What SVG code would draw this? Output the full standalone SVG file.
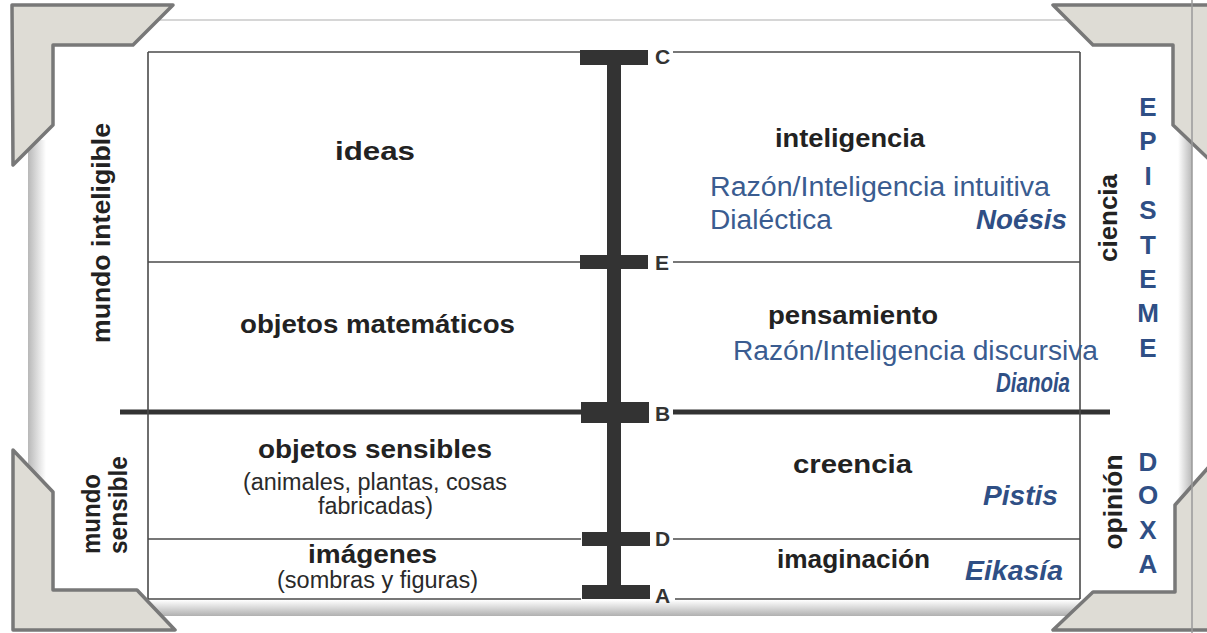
<svg xmlns="http://www.w3.org/2000/svg" width="1207" height="633" viewBox="0 0 1207 633">
<defs>
<linearGradient id="gl" x1="0" y1="0" x2="1" y2="0"><stop offset="0" stop-color="#b8b8b8"/><stop offset="1" stop-color="#ffffff"/></linearGradient>
<linearGradient id="gr" x1="0" y1="0" x2="1" y2="0"><stop offset="0" stop-color="#ffffff"/><stop offset="1" stop-color="#b8b8b8"/></linearGradient>
<linearGradient id="gb" x1="0" y1="0" x2="0" y2="1"><stop offset="0" stop-color="#ffffff"/><stop offset="1" stop-color="#b0b0b0"/></linearGradient>
</defs>
<style>
.ln{stroke:#4a4a4a;stroke-width:1.6;fill:none}
.thick{stroke:#333;stroke-width:5;fill:none}
.bar{fill:#333}
.b{font-family:"Liberation Sans",Arial,sans-serif;font-weight:bold;fill:#222;font-size:26px}
.r{font-family:"Liberation Sans",Arial,sans-serif;fill:#2a2a2a;font-size:23px}
.bl{font-family:"Liberation Sans",Arial,sans-serif;fill:#3a5c90;font-size:27px}
.bi{font-family:"Liberation Sans",Arial,sans-serif;fill:#2f4f85;font-size:27px;font-weight:bold;font-style:italic}
.lt{font-family:"Liberation Sans",Arial,sans-serif;fill:#2f4f85;font-size:26px;font-weight:bold;text-anchor:middle}
.lab{font-family:"Liberation Sans",Arial,sans-serif;font-weight:bold;fill:#333;font-size:21px}
.corner{fill:#dedcd5;stroke:#787878;stroke-width:3.5;stroke-linejoin:round}
</style>
<rect width="1207" height="633" fill="#ffffff"/>
<g id="frame">
<line x1="150" y1="20" x2="1100" y2="20" stroke="#c8c8c8" stroke-width="1.5"/>
<rect x="28" y="140" width="18" height="470" fill="url(#gl)"/>
<rect x="1178" y="20" width="14" height="592" fill="url(#gr)"/>
<rect x="28" y="600" width="1164" height="16" fill="url(#gb)"/>
</g>
<g id="connectors">
<line class="ln" x1="148" y1="52" x2="581" y2="52"/>
<line class="ln" x1="673" y1="52" x2="1080" y2="52"/>
<line class="ln" x1="148" y1="262" x2="581" y2="262"/>
<line class="ln" x1="673" y1="262" x2="1080" y2="262"/>
<line class="thick" x1="120" y1="412" x2="581" y2="412"/>
<line class="thick" x1="673" y1="412" x2="1110" y2="412"/>
<line class="ln" x1="148" y1="539" x2="581" y2="539"/>
<line class="ln" x1="673" y1="539" x2="1080" y2="539"/>
<line class="ln" x1="148" y1="599" x2="581" y2="599"/>
<line class="ln" x1="675" y1="599" x2="1080" y2="599"/>
<line class="ln" x1="148" y1="52" x2="148" y2="599"/>
<line class="ln" x1="1080" y1="52" x2="1080" y2="599"/>
</g>
<g id="axis">
<rect class="bar" x="607" y="52" width="14" height="546"/>
<rect class="bar" x="580" y="50" width="68" height="15"/>
<rect class="bar" x="580" y="255" width="68" height="14"/>
<rect class="bar" x="581" y="402" width="68" height="21"/>
<rect class="bar" x="582" y="532" width="68" height="14"/>
<rect class="bar" x="582" y="585" width="68" height="14"/>
<text class="lab" x="655" y="64">C</text>
<text class="lab" x="655" y="270">E</text>
<text class="lab" x="655" y="421">B</text>
<text class="lab" x="655" y="546">D</text>
<text class="lab" x="655" y="603">A</text>
</g>
<g id="node-ideas"><text class="b" x="335" y="160" textLength="80" lengthAdjust="spacingAndGlyphs">ideas</text></g>
<g id="node-matematicos"><text class="b" x="240" y="333" textLength="275" lengthAdjust="spacingAndGlyphs">objetos matemáticos</text></g>
<g id="node-sensibles">
<text class="b" x="258" y="458" textLength="234" lengthAdjust="spacingAndGlyphs">objetos sensibles</text>
<text class="r" x="243" y="490" textLength="264" lengthAdjust="spacingAndGlyphs">(animales, plantas, cosas</text>
<text class="r" x="318" y="514" textLength="115" lengthAdjust="spacingAndGlyphs">fabricadas)</text>
</g>
<g id="node-imagenes">
<text class="b" x="308" y="563" textLength="129" lengthAdjust="spacingAndGlyphs">imágenes</text>
<text class="r" x="277" y="588" textLength="201" lengthAdjust="spacingAndGlyphs">(sombras y figuras)</text>
</g>
<g id="node-inteligencia">
<text class="b" x="775" y="147" textLength="150" lengthAdjust="spacingAndGlyphs">inteligencia</text>
<text class="bl" x="710" y="196" textLength="340" lengthAdjust="spacingAndGlyphs">Razón/Inteligencia  intuitiva</text>
<text class="bl" x="710" y="229" textLength="122" lengthAdjust="spacingAndGlyphs">Dialéctica</text>
<text class="bi" x="976" y="229" textLength="91" lengthAdjust="spacingAndGlyphs">Noésis</text>
</g>
<g id="node-pensamiento">
<text class="b" x="768" y="324" textLength="170" lengthAdjust="spacingAndGlyphs">pensamiento</text>
<text class="bl" x="733" y="360" textLength="365" lengthAdjust="spacingAndGlyphs">Razón/Inteligencia  discursiva</text>
<text class="bi" x="996" y="392" textLength="74" lengthAdjust="spacingAndGlyphs">Dianoia</text>
</g>
<g id="node-creencia">
<text class="b" x="793" y="473" textLength="119" lengthAdjust="spacingAndGlyphs">creencia</text>
<text class="bi" x="983" y="505" textLength="75" lengthAdjust="spacingAndGlyphs">Pistis</text>
</g>
<g id="node-imaginacion">
<text class="b" x="777" y="568" textLength="153" lengthAdjust="spacingAndGlyphs">imaginación</text>
<text class="bi" x="965" y="580" textLength="98" lengthAdjust="spacingAndGlyphs">Eikasía</text>
</g>
<g id="node-mundo-inteligible"><text class="b" transform="translate(110,233) rotate(-90)" text-anchor="middle" textLength="220" lengthAdjust="spacingAndGlyphs">mundo inteligible</text></g>
<g id="node-mundo-sensible">
<text class="b" transform="translate(100,554) rotate(-90)" textLength="80" lengthAdjust="spacingAndGlyphs">mundo</text>
<text class="b" transform="translate(127,554) rotate(-90)" textLength="98" lengthAdjust="spacingAndGlyphs">sensible</text>
</g>
<g id="node-ciencia"><text class="b" transform="translate(1117,218) rotate(-90)" text-anchor="middle" textLength="88" lengthAdjust="spacingAndGlyphs">ciencia</text></g>
<g id="node-opinion"><text class="b" transform="translate(1122,502) rotate(-90)" text-anchor="middle" textLength="95" lengthAdjust="spacingAndGlyphs">opinión</text></g>
<g id="node-episteme">
<text class="lt" x="1148" y="116">E</text>
<text class="lt" x="1148" y="150">P</text>
<text class="lt" x="1148" y="185">I</text>
<text class="lt" x="1148" y="219">S</text>
<text class="lt" x="1148" y="254">T</text>
<text class="lt" x="1148" y="288">E</text>
<text class="lt" x="1148" y="322">M</text>
<text class="lt" x="1148" y="357">E</text>
</g>
<g id="node-doxa">
<text class="lt" x="1148" y="471">D</text>
<text class="lt" x="1148" y="504">O</text>
<text class="lt" x="1148" y="539">X</text>
<text class="lt" x="1148" y="573">A</text>
</g>
<g id="corners">
<polygon class="corner" points="12,5 173,5 133,45 53,45 53,125 13,165"/>
<polygon class="corner" points="1053,5 1215,5 1215,165 1173,125 1173,45 1093,45"/>
<polygon class="corner" points="13,450 53,492 53,590 137,590 175,630 13,630"/>
<polygon class="corner" points="1215,460 1175,505 1175,592 1093,592 1053,630 1215,630"/>
</g>
<line x1="1192" y1="0" x2="1192" y2="633" stroke="#9a9a9a" stroke-width="1.5"/>
</svg>
